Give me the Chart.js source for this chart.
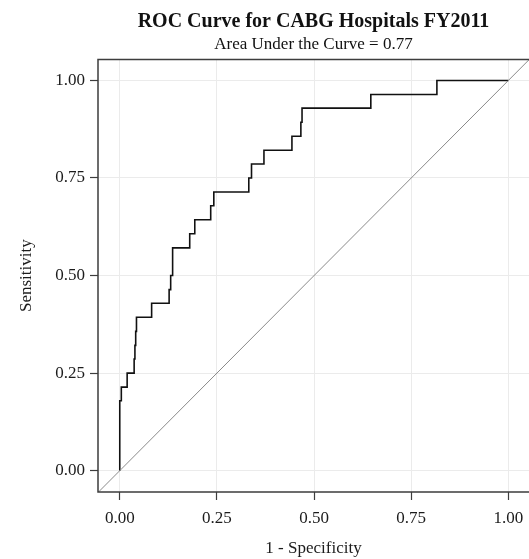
<!DOCTYPE html>
<html>
<head>
<meta charset="utf-8">
<script src="https://cdn.jsdelivr.net/npm/chart.js@4.4.1/dist/chart.umd.min.js"></script>
<style>
  body { margin: 0; background: #fff; }
  canvas { display: block; }
</style>
</head>
<body>
<canvas id="roc" width="529" height="559"></canvas>
<script>
// ROC points (1 - specificity, sensitivity)
const fpr = [0, 0, 0.004, 0.019, 0.037, 0.039, 0.041, 0.043, 0.082, 0.127, 0.131, 0.136,
  0.180, 0.193, 0.234, 0.242, 0.332, 0.339, 0.371, 0.443, 0.466, 0.469, 0.646, 0.816, 0.846, 1.0];
const tpr = [0, 0.143, 0.179, 0.214, 0.25, 0.286, 0.321, 0.357, 0.393, 0.429, 0.464, 0.5,
  0.571, 0.607, 0.643, 0.679, 0.714, 0.75, 0.786, 0.821, 0.857, 0.893, 0.929, 0.964, 1.0, 1.0];

// chance line y = x, run past the panel edges
const refX = [-0.1, 1.1];
const refY = [-0.1, 1.1];

const xTicks = [0, 0.25, 0.5, 0.75, 1];
const yTicks = [0, 0.25, 0.5, 0.75, 1];

const axisColor = "#3d3d3d";
const textColor = "#1c1c1c";

Chart.defaults.font.family = "'Liberation Serif', 'Times New Roman', serif";
Chart.defaults.color = textColor;

// panel box: left, bottom and top edge (right edge falls off the picture)
const panelFrame = {
  id: "panelFrame",
  afterDraw(chart) {
    const { ctx, chartArea: a } = chart;
    ctx.save();
    ctx.strokeStyle = axisColor;
    ctx.lineWidth = 1.5;
    ctx.beginPath();
    ctx.moveTo(a.right + 2, a.top);
    ctx.lineTo(a.left, a.top);
    ctx.lineTo(a.left, a.bottom);
    ctx.lineTo(a.right + 2, a.bottom);
    ctx.stroke();
    ctx.restore();
  },
};

new Chart(document.getElementById("roc"), {
  type: "line",
  data: {
    datasets: [
      {
        label: "chance",
        data: refX.map((x, i) => ({ x: x, y: refY[i] })),
        borderColor: "#8a8a8a",
        borderWidth: 1,
        pointRadius: 0,
        clip: 0,
      },
      {
        label: "ROC",
        data: fpr.map((x, i) => ({ x: x, y: tpr[i] })),
        borderColor: "#111",
        borderWidth: 1.6,
        pointRadius: 0,
        stepped: "after",
      },
    ],
  },
  options: {
    responsive: false,
    animation: false,
    layout: { padding: 0 },
    plugins: {
      legend: { display: false },
      tooltip: { enabled: false },
      title: {
        display: true,
        text: "ROC Curve for CABG Hospitals FY2011",
        fullSize: false,
        color: "#111",
        font: { size: 20, weight: "bold" },
        padding: { top: 10, bottom: 0 },
      },
      subtitle: {
        display: true,
        text: "Area Under the Curve = 0.77",
        fullSize: false,
        color: "#111",
        font: { size: 17 },
        padding: { top: 0, bottom: 5 },
      },
    },
    scales: {
      x: {
        type: "linear",
        min: -0.056,
        max: 1.053,
        afterBuildTicks: (s) => { s.ticks = xTicks.map((v) => ({ value: v })); },
        afterFit: (s) => { s.height = 67; s.paddingLeft = 0; s.paddingRight = 0; },
        grid: { color: "#ebebeb", lineWidth: 1, tickColor: axisColor, tickLength: 8, tickWidth: 1.2 },
        border: { display: false },
        ticks: {
          padding: 8,
          font: { size: 17 },
          maxRotation: 0,
          callback: (v) => Number(v).toFixed(2),
        },
        title: {
          display: true,
          text: "1 - Specificity",
          font: { size: 17 },
          padding: { top: 0, bottom: 0 },
        },
      },
      y: {
        type: "linear",
        min: -0.0547,
        max: 1.0539,
        afterBuildTicks: (s) => { s.ticks = yTicks.map((v) => ({ value: v })); },
        afterFit: (s) => { s.width = 98; s.paddingTop = 0; s.paddingBottom = 0; },
        grid: { color: "#ebebeb", lineWidth: 1, tickColor: axisColor, tickLength: 8, tickWidth: 1.2 },
        border: { display: false },
        ticks: {
          padding: 5,
          font: { size: 17 },
          callback: (v) => Number(v).toFixed(2),
        },
        title: {
          display: true,
          text: "Sensitivity",
          font: { size: 17 },
          padding: { top: 16, bottom: 0 },
        },
      },
    },
  },
  plugins: [panelFrame],
});
</script>
</body>
</html>
